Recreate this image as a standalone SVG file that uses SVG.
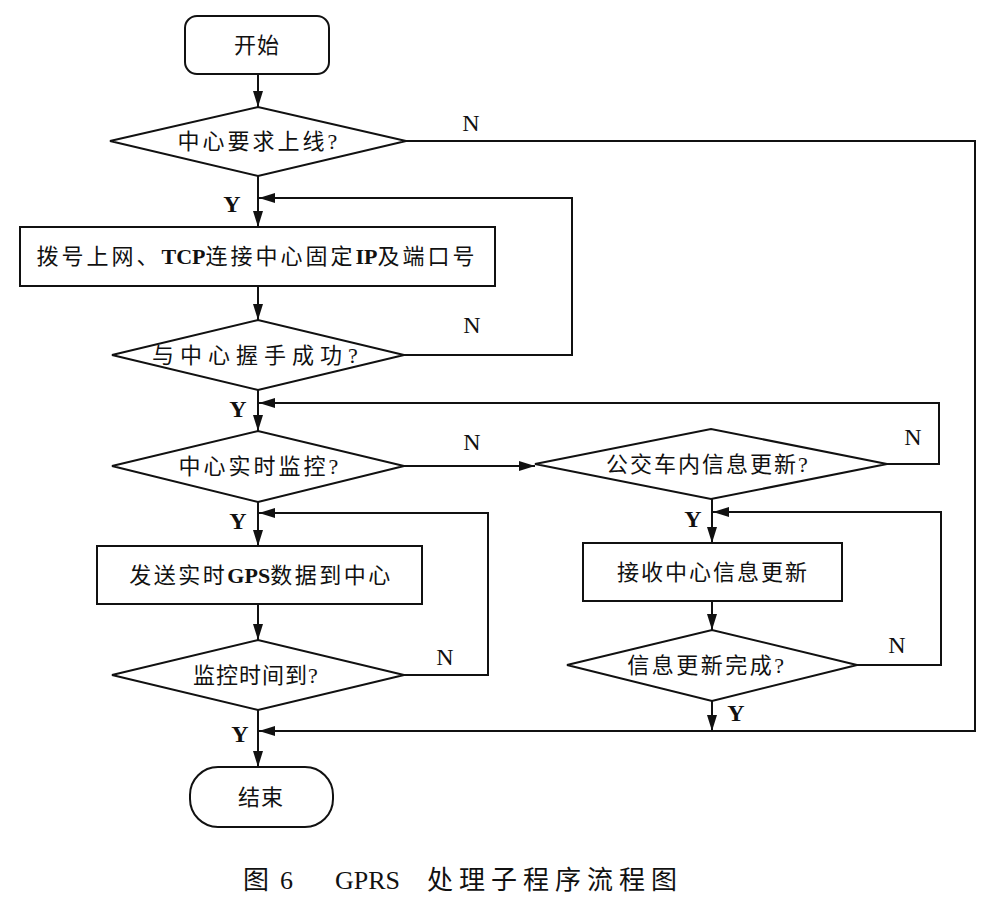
<svg xmlns="http://www.w3.org/2000/svg" width="990" height="916" viewBox="0 0 990 916">
<style>
.shape{fill:#fff;stroke:#111;stroke-width:2}
.conn path{fill:none;stroke:#111;stroke-width:2}
text{font-family:"Liberation Serif","Noto Sans CJK SC",serif;fill:#111}
.t{font-size:22px;text-anchor:middle}
.b{font-weight:bold}
.yn{font-size:24px;text-anchor:middle}
.cap{font-size:26px}
</style>
<defs>
<marker id="ah" markerWidth="16" markerHeight="10" refX="16" refY="5" orient="auto" markerUnits="userSpaceOnUse">
<path d="M0,0 L16,5 L0,10 Z" fill="#111"/>
</marker>
</defs>
<rect width="990" height="916" fill="#fff"/>
<g class="conn">
<path d="M258,74 V107" marker-end="url(#ah)"/>
<path d="M258,176 V227" marker-end="url(#ah)"/>
<path d="M258,286 V320" marker-end="url(#ah)"/>
<path d="M404,355 H572 V198 H259" marker-end="url(#ah)"/>
<path d="M258,390 V431" marker-end="url(#ah)"/>
<path d="M406,141 H975 V731 H259" marker-end="url(#ah)"/>
<path d="M404,466 H535" marker-end="url(#ah)"/>
<path d="M887,464 H939 V403 H259" marker-end="url(#ah)"/>
<path d="M258,502 V546" marker-end="url(#ah)"/>
<path d="M258,604 V640" marker-end="url(#ah)"/>
<path d="M404,675 H488 V513 H259" marker-end="url(#ah)"/>
<path d="M258,710 V767" marker-end="url(#ah)"/>
<path d="M712,499 V543" marker-end="url(#ah)"/>
<path d="M712,601 V630" marker-end="url(#ah)"/>
<path d="M857,665 H941 V512 H713" marker-end="url(#ah)"/>
<path d="M712,701 V731" marker-end="url(#ah)"/>
<text class="yn" x="471" y="131">N</text>
<text class="yn b" x="232" y="212">Y</text>
<text class="yn" x="472" y="333">N</text>
<text class="yn b" x="238" y="417">Y</text>
<text class="yn" x="472" y="450">N</text>
<text class="yn b" x="238" y="529">Y</text>
<text class="yn" x="445" y="665">N</text>
<text class="yn b" x="240" y="742">Y</text>
<text class="yn" x="913" y="445">N</text>
<text class="yn b" x="693" y="527">Y</text>
<text class="yn" x="897" y="653">N</text>
<text class="yn b" x="736" y="721">Y</text>
</g>
<g id="start">
<rect class="shape" x="185" y="16" width="144" height="58" rx="12"/>
<text class="t" x="257" y="53" letter-spacing="1">开始</text>
</g>
<g id="d1">
<polygon class="shape" points="110,141 258,107 406,141 258,176"/>
<text class="t" x="259" y="149" letter-spacing="3">中心要求上线?</text>
</g>
<g id="box1">
<rect class="shape" x="20" y="227" width="475" height="59"/>
<text class="t" x="257" y="264" letter-spacing="3">拨号上网、<tspan class="b" letter-spacing="0">TCP</tspan>连接中心固定<tspan class="b" letter-spacing="0">IP</tspan>及端口号</text>
</g>
<g id="d2">
<polygon class="shape" points="112,355 258,320 404,355 258,390"/>
<text class="t" x="258" y="363" letter-spacing="6">与中心握手成功?</text>
</g>
<g id="d3">
<polygon class="shape" points="112,466 258,431 404,466 258,502"/>
<text class="t" x="260" y="474" letter-spacing="3">中心实时监控?</text>
</g>
<g id="box2">
<rect class="shape" x="97" y="546" width="325" height="58"/>
<text class="t" x="261" y="583" letter-spacing="2.5">发送实时<tspan class="b" letter-spacing="0">GPS</tspan>数据到中心</text>
</g>
<g id="d4">
<polygon class="shape" points="112,675 258,640 404,675 258,710"/>
<text class="t" x="256" y="683" letter-spacing="1">监控时间到?</text>
</g>
<g id="end">
<rect class="shape" x="190" y="767" width="143" height="60" rx="28"/>
<text class="t" x="261" y="805" letter-spacing="1">结束</text>
</g>
<g id="d5">
<polygon class="shape" points="535,464 711,429 887,464 711,499"/>
<text class="t" x="708" y="472" letter-spacing="2">公交车内信息更新?</text>
</g>
<g id="box3">
<rect class="shape" x="583" y="543" width="259" height="58"/>
<text class="t" x="713" y="580" letter-spacing="2">接收中心信息更新</text>
</g>
<g id="d6">
<polygon class="shape" points="567,665 712,630 857,665 712,701"/>
<text class="t" x="707" y="673" letter-spacing="2.5">信息更新完成?</text>
</g>
<g id="caption">
<text class="cap" x="243" y="889">图</text>
<text class="cap" x="280" y="889">6</text>
<text class="cap" x="335" y="889">GPRS</text>
<text class="cap" x="427" y="889" letter-spacing="6">处理子程序流程图</text>
</g>
</svg>
